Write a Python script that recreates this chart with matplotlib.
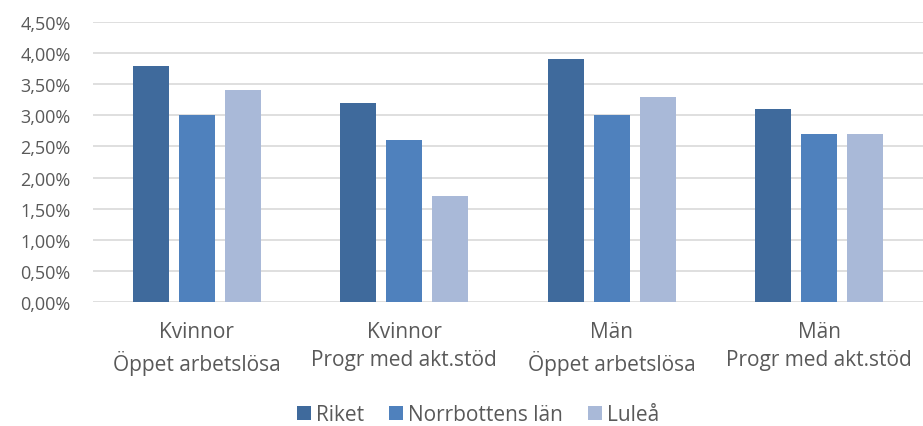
import matplotlib
matplotlib.use("Agg")
import matplotlib.pyplot as plt
import numpy as np
from matplotlib.ticker import FuncFormatter, MultipleLocator

categories = ["Kvinnor\nÖppet arbetslösa", "Kvinnor\nProgr med akt.stöd",
              "Män\nÖppet arbetslösa", "Män\nProgr med akt.stöd"]
series_names = ["Riket", "Norrbottens län", "Luleå"]
riket = [3.8, 3.2, 3.9, 3.1]
norrbotten = [3.0, 2.6, 3.0, 2.7]
lulea = [3.4, 1.7, 3.3, 2.7]
colors = ["#3F6A9C", "#4F81BD", "#A9B9D8"]

plt.rcParams['font.family'] = ['Open Sans', 'DejaVu Sans']
text_color = "#595959"

fig = plt.figure(figsize=(9.23, 4.27), dpi=100)
ax = fig.add_axes([93/923, 1-303/427, 830/923, 280/427])

x = np.arange(len(categories))
step = 0.2217
width = 0.1735
for i, (vals, name) in enumerate(zip([riket, norrbotten, lulea], series_names)):
    ax.bar(x + (i-1)*step, vals, width=width, color=colors[i], label=name, zorder=3)

ax.set_xlim(-0.5, 3.5)
ax.set_ylim(0, 4.5)
ax.yaxis.set_major_locator(MultipleLocator(0.5))
ax.yaxis.set_major_formatter(FuncFormatter(lambda v, p: f"{v:.2f}%".replace(".", ",")))
ax.grid(axis='y', color="#D9D9D9", linewidth=1.2, zorder=0)
for s in ax.spines.values():
    s.set_visible(False)
ax.tick_params(axis='both', length=0, colors=text_color)
ax.tick_params(axis='y', pad=16, labelsize=13)
ax.tick_params(axis='x', pad=14, labelsize=15)
ax.set_xticks(x)
ax.set_xticklabels(categories, linespacing=1.4)

leg = fig.legend(loc='center', bbox_to_anchor=(478/923, 1-416/427), ncol=3, frameon=False,
                 fontsize=15, handlelength=0.67, handleheight=0.67, handletextpad=0.25,
                 columnspacing=1.2, labelcolor=text_color, borderaxespad=0, borderpad=0)

fig.savefig("out.png", dpi=100)
